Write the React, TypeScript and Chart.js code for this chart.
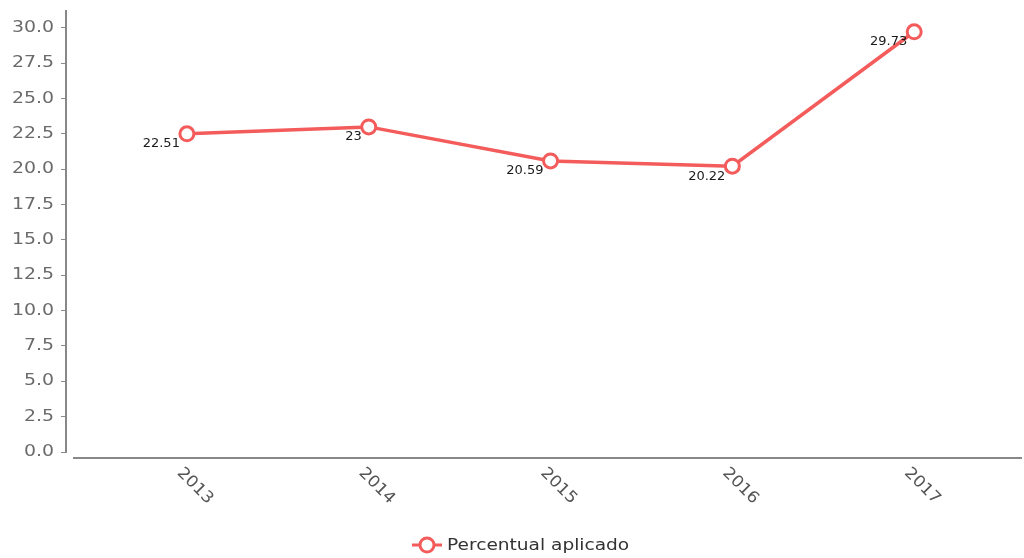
import React, { useEffect, useRef } from 'react';
import { Chart, registerables } from 'chart.js';

Chart.register(...registerables);

const years = [2013, 2014, 2015, 2016, 2017];
const values = [22.51, 23, 20.59, 20.22, 29.73];
const valueLabels = ['22.51', '23', '20.59', '20.22', '29.73'];
const seriesName = 'Percentual aplicado';
const yMin = 0;
const yMax = 31.2;
const yStep = 2.5;

const RED = '#f45b5b';
const FONT = '"DejaVu Sans", sans-serif';
const STRETCH = 1.18;

const customPlugin = {
  id: 'custom',
  afterDraw(chart: any) {
    const { ctx, chartArea } = chart;
    const xs = chart.scales.x;
    const ys = chart.scales.y;
    ctx.save();
    // x axis line (offset below the plot)
    ctx.strokeStyle = '#888';
    ctx.lineWidth = 2;
    ctx.beginPath();
    ctx.moveTo(chartArea.left + 7, chartArea.bottom + 6);
    ctx.lineTo(1022, chartArea.bottom + 6);
    ctx.stroke();

    // y tick labels (horizontally stretched)
    ctx.fillStyle = '#6a6a6a';
    ctx.font = `16px ${FONT}`;
    ctx.textAlign = 'right';
    ctx.textBaseline = 'middle';
    ys.ticks.forEach((t: any) => {
      const py = ys.getPixelForValue(t.value);
      ctx.save();
      ctx.translate(54, py);
      ctx.scale(STRETCH, 1);
      ctx.fillText(Number(t.value).toFixed(1), 0, 0);
      ctx.restore();
    });

    // rotated x labels
    ctx.fillStyle = '#555';
    ctx.font = `16px ${FONT}`;
    ctx.textAlign = 'center';
    ctx.textBaseline = 'middle';
    years.forEach((yr) => {
      const px = xs.getPixelForValue(yr);
      ctx.save();
      ctx.translate(px + 8, chartArea.bottom + 34);
      ctx.rotate(Math.PI / 4);
      ctx.scale(1.08, 1);
      ctx.fillText(String(yr), 0, 0);
      ctx.restore();
    });

    // data labels
    const meta = chart.getDatasetMeta(0);
    ctx.fillStyle = '#1a1a1a';
    ctx.font = `13px ${FONT}`;
    ctx.textAlign = 'right';
    ctx.textBaseline = 'middle';
    meta.data.forEach((pt: any, i: number) => {
      ctx.fillText(valueLabels[i], pt.x - 7, pt.y + 10);
    });

    // legend
    const ly = 545;
    ctx.strokeStyle = RED;
    ctx.lineWidth = 3;
    ctx.beginPath();
    ctx.moveTo(412, ly);
    ctx.lineTo(442, ly);
    ctx.stroke();
    ctx.beginPath();
    ctx.arc(427, ly, 7, 0, Math.PI * 2);
    ctx.fillStyle = '#fff';
    ctx.fill();
    ctx.stroke();
    ctx.fillStyle = '#333';
    ctx.font = `16px ${FONT}`;
    ctx.textAlign = 'left';
    ctx.textBaseline = 'middle';
    ctx.save();
    ctx.translate(447, ly + 1);
    ctx.scale(1.16, 1);
    ctx.fillText(seriesName, 0, 0);
    ctx.restore();

    ctx.restore();
  },
};

export default function App() {
  const ref = useRef<HTMLCanvasElement>(null);
  useEffect(() => {
    document.body.style.margin = '0';
    const chart = new Chart(ref.current!, {
      type: 'line',
      data: {
        datasets: [
          {
            label: seriesName,
            data: years.map((x, i) => ({ x, y: values[i] })),
            borderColor: RED,
            borderWidth: 3.5,
            pointRadius: 7,
            pointBorderWidth: 3,
            pointBackgroundColor: '#fff',
            pointBorderColor: RED,
            tension: 0,
          },
        ],
      },
      options: {
        responsive: false,
        animation: false,
        layout: { padding: { top: 11, right: 9, left: 0, bottom: 0 } },
        plugins: { legend: { display: false }, tooltip: { enabled: false } },
        scales: {
          x: {
            type: 'linear',
            min: 2012.335,
            max: 2017.549,
            ticks: { display: false },
            grid: { display: false },
            border: { display: false },
            afterFit: (s: any) => {
              s.height = 106;
            },
          },
          y: {
            min: yMin,
            max: yMax,
            ticks: {
              stepSize: yStep,
              includeBounds: false,
              color: 'rgba(0,0,0,0)',
              padding: 5,
              font: { family: FONT, size: 10 },
              callback: (v: any) => Number(v).toFixed(1),
            },
            grid: {
              display: true,
              drawOnChartArea: false,
              drawTicks: true,
              tickLength: 5,
              color: '#888',
            },
            border: { display: true, color: '#888', width: 2 },
            afterFit: (s: any) => {
              s.width = 66;
            },
          },
        },
      },
      plugins: [customPlugin],
    });
    return () => chart.destroy();
  }, []);
  return <canvas ref={ref} width={1024} height={558} style={{ display: 'block' }} />;
}
